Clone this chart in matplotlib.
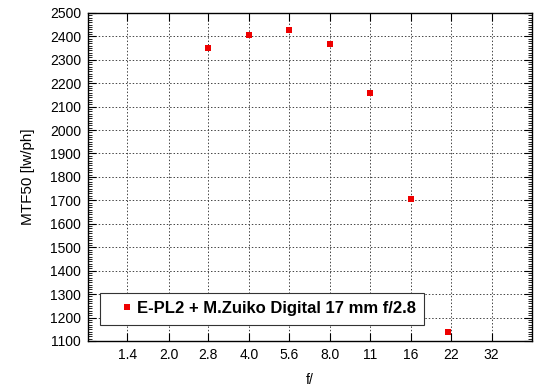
import numpy as np
import matplotlib
matplotlib.use("Agg")
import matplotlib.pyplot as plt
from matplotlib.ticker import MultipleLocator

plt.rcParams['font.family'] = ['Liberation Sans', 'DejaVu Sans']

# data
f_number = [2.8, 4.0, 5.6, 8.0, 11.3, 16, 22]
mtf50 = [2352, 2406, 2426, 2369, 2156, 1705, 1137]
series_label = "E-PL2 + M.Zuiko Digital 17 mm f/2.8"

tick_pos = [1.4, 2.0, 2.8, 4.0, 5.6, 8.0, 11.31, 16, 22.63, 32]
tick_labels = ["1.4", "2.0", "2.8", "4.0", "5.6", "8.0", "11", "16", "22", "32"]

fig = plt.figure(figsize=(5.5, 3.89), dpi=100)
ax = fig.add_axes([0.16, 0.1234, 0.807, 0.8436])

ax.plot(f_number, mtf50, linestyle="none", marker="s", markersize=5,
        color="#ee0000", markeredgewidth=0, label=series_label)

ax.set_xscale("log", base=2)
ax.set_xlim(1.0, 2 ** 5.5)
ax.set_xticks(tick_pos)
ax.set_xticklabels(tick_labels)
ax.xaxis.set_minor_locator(matplotlib.ticker.NullLocator())

ax.set_ylim(1100, 2500)
ax.yaxis.set_major_locator(MultipleLocator(100))
ax.yaxis.set_minor_locator(MultipleLocator(10))

ax.tick_params(axis="both", which="both", direction="in", top=True, right=True,
               labelsize=10, colors="black")
ax.tick_params(axis="both", which="major", length=6, width=0.8)
ax.tick_params(axis="y", which="minor", length=3, width=0.6)
ax.tick_params(axis="x", pad=5)
ax.tick_params(axis="y", pad=5)

ax.grid(True, which="major", linestyle=(0, (1.5, 2)), color="#444444", linewidth=0.7)

for s in ax.spines.values():
    s.set_linewidth(1.0)

ax.set_xlabel("f/", fontsize=10, labelpad=8)
ax.set_ylabel("MTF50 [lw/ph]", fontsize=11, labelpad=11)

leg = ax.legend(loc="lower left", bbox_to_anchor=(0.028, 0.05),
                prop={"weight": "bold", "size": 12}, fancybox=False,
                framealpha=1, edgecolor="#333333", handlelength=2.2,
                handletextpad=-0.5, borderpad=0.5, borderaxespad=0)
leg.get_frame().set_linewidth(0.8)

fig.savefig("out.png", dpi=100)
